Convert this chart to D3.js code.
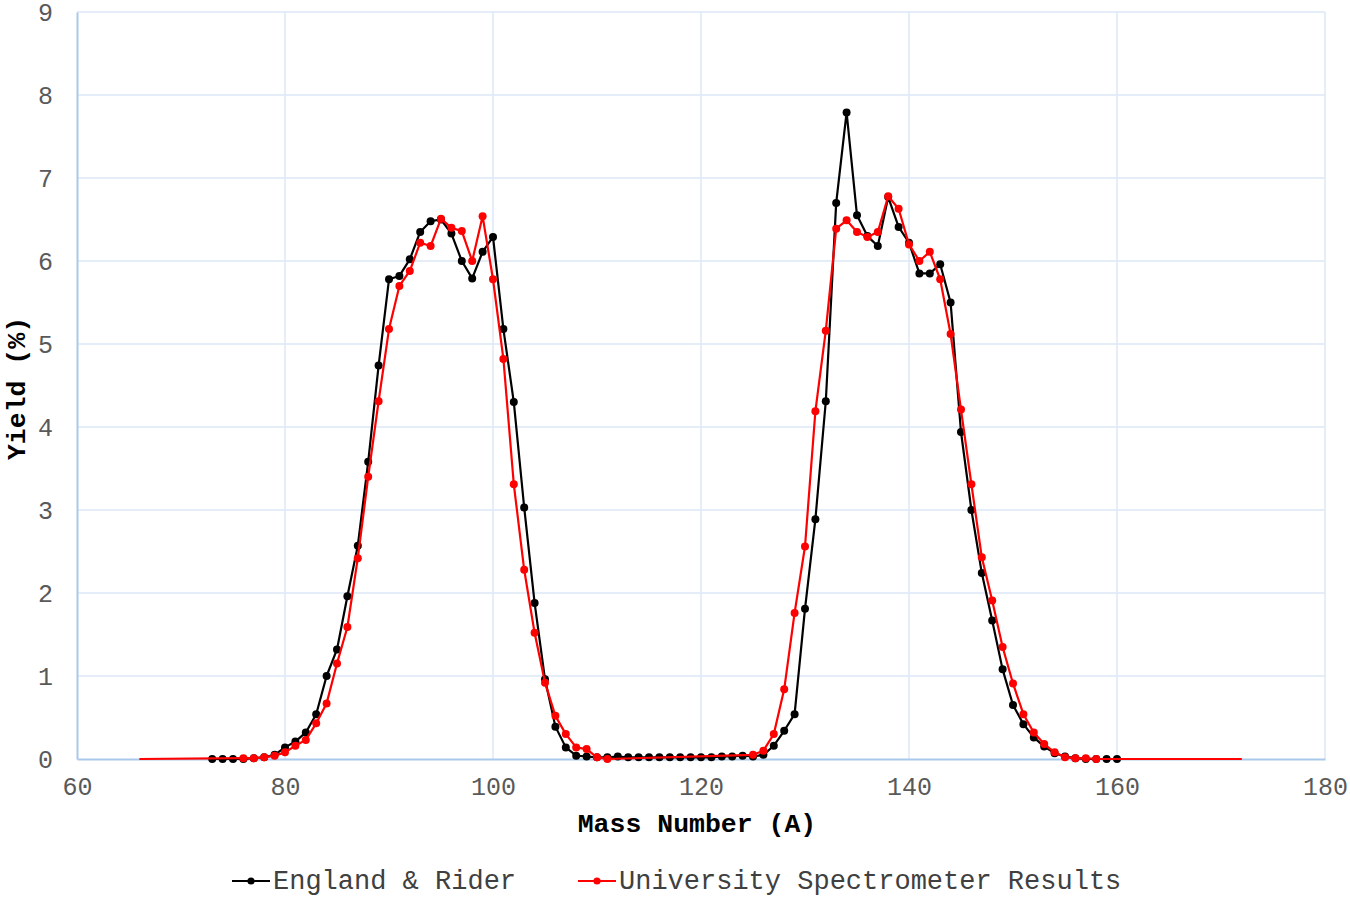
<!DOCTYPE html>
<html>
<head>
<meta charset="utf-8">
<script src="https://cdn.jsdelivr.net/npm/d3@7"></script>
<style>
  body { margin: 0; background: #fff; }
  svg text { font-family: "Liberation Mono", "Courier New", monospace; }
</style>
</head>
<body>
<div id="chart"></div>
<script>
// England & Rider yields, A = 73..160
var erMass = [73,74,75,76,77,78,79,80,81,82,83,84,85,86,87,88,89,90,91,92,93,94,95,96,97,98,99,100,
  101,102,103,104,105,106,107,108,109,110,111,112,113,114,115,116,117,118,119,120,121,122,123,124,125,
  126,127,128,129,130,131,132,133,134,135,136,137,138,139,140,141,142,143,144,145,146,147,148,149,150,
  151,152,153,154,155,156,157,158,159,160];
var erYield = [0,0,0,0,0.01,0.02,0.05,0.14,0.21,0.32,0.54,1.0,1.32,1.96,2.57,3.58,4.74,5.78,5.82,6.02,6.35,6.48,6.50,6.33,6.0,5.79,6.11,6.29,
  5.18,4.30,3.03,1.88,0.96,0.39,0.14,0.04,0.03,0.02,0.02,0.03,0.02,0.02,0.02,0.02,0.02,0.02,0.02,0.02,0.02,0.03,0.03,0.04,0.03,
  0.05,0.16,0.34,0.54,1.81,2.89,4.31,6.70,7.79,6.55,6.30,6.18,6.77,6.41,6.22,5.85,5.85,5.96,5.50,3.94,3.00,2.24,1.67,1.08,0.65,
  0.42,0.26,0.15,0.07,0.03,0.01,0,0,0,0];

// University spectrometer results
var usMass = [76,77,78,79,80,81,82,83,84,85,86,87,88,89,90,91,92,93,94,95,96,97,98,99,100,
  101,102,103,104,105,106,107,108,109,110,111,
  125,126,127,128,129,130,131,132,133,134,135,136,137,138,139,140,141,142,143,144,145,146,147,148,149,150,
  151,152,153,154,155,156,157,158];
var usYield = [0.01,0.01,0.02,0.04,0.08,0.16,0.23,0.43,0.67,1.15,1.59,2.42,3.40,4.31,5.18,5.70,5.88,6.22,6.18,6.51,6.40,6.36,6.0,6.54,5.78,
  4.82,3.31,2.28,1.52,0.92,0.52,0.30,0.14,0.12,0.02,0,
  0.05,0.10,0.30,0.84,1.76,2.56,4.19,5.16,6.39,6.49,6.35,6.29,6.35,6.78,6.63,6.20,6.00,6.11,5.78,5.12,4.21,3.31,2.43,1.91,1.35,0.91,
  0.54,0.32,0.18,0.08,0.02,0.01,0.01,0];
// the red line runs flat at zero out to these mass numbers (no markers)
var usLineEnds = [66, 172];

var xTicks = [60,80,100,120,140,160,180];
var yTicks = [0,1,2,3,4,5,6,7,8,9];
var seriesNames = ["England & Rider", "University Spectrometer Results"];
var seriesColors = ["#000000", "#ff0000"];

var width = 1350, height = 897;
var margin = {top: 12, right: 25, bottom: 138, left: 77};
var plotW = width - margin.left - margin.right,
    plotH = height - margin.top - margin.bottom;

var svg = d3.select("#chart").append("svg")
    .attr("width", width)
    .attr("height", height);

var g = svg.append("g")
    .attr("transform", "translate(" + margin.left + "," + margin.top + ")");

var xScale = d3.scaleLinear().domain([60, 180]).range([0, plotW]);
var yScale = d3.scaleLinear().domain([0, 9]).range([plotH, 0]);

// gridlines
g.append("g").selectAll("line.vgrid")
    .data(xTicks.slice(1))
    .enter().append("line")
    .attr("x1", function(d){ return xScale(d); })
    .attr("x2", function(d){ return xScale(d); })
    .attr("y1", 0).attr("y2", plotH)
    .attr("stroke", "#dce8f6").attr("stroke-width", 1.5);

g.append("g").selectAll("line.hgrid")
    .data(yTicks.slice(1))
    .enter().append("line")
    .attr("x1", 0).attr("x2", plotW)
    .attr("y1", function(d){ return yScale(d); })
    .attr("y2", function(d){ return yScale(d); })
    .attr("stroke", "#dce8f6").attr("stroke-width", 1.5);

// axes
var xAxis = g.append("g")
    .attr("transform", "translate(0," + plotH + ")")
    .call(d3.axisBottom(xScale).tickValues(xTicks).tickSize(0).tickPadding(18));
var yAxis = g.append("g")
    .call(d3.axisLeft(yScale).tickValues(yTicks).tickSize(0).tickPadding(24));

[xAxis, yAxis].forEach(function(ax){
    ax.select(".domain").attr("stroke", "#a9c9ec").attr("stroke-width", 2);
    ax.selectAll("text")
        .attr("fill", "#595959")
        .style("font-size", "25px");
});

// axis titles
svg.append("text")
    .attr("x", margin.left + plotW / 2 - 4)
    .attr("y", 832)
    .attr("text-anchor", "middle")
    .style("font-size", "26.5px")
    .style("font-weight", "bold")
    .attr("fill", "#000")
    .text("Mass Number (A)");

svg.append("text")
    .attr("transform", "translate(25," + (margin.top + plotH / 2 + 3) + ") rotate(-90)")
    .attr("text-anchor", "middle")
    .style("font-size", "26.5px")
    .style("font-weight", "bold")
    .attr("fill", "#000")
    .text("Yield (%)");

// series
var line = d3.line()
    .x(function(d){ return xScale(d[0]); })
    .y(function(d){ return yScale(d[1]); });

var erPts = erMass.map(function(m, i){ return [m, erYield[i]]; });
var usPts = usMass.map(function(m, i){ return [m, usYield[i]]; });
var usLinePts = [[usLineEnds[0], 0]].concat(usPts, [[usLineEnds[1], 0]]);

var plot = g.append("g");

function drawSeries(linePts, markPts, color) {
    plot.append("path")
        .datum(linePts)
        .attr("d", line)
        .attr("fill", "none")
        .attr("stroke", color)
        .attr("stroke-width", 2.2)
        .attr("stroke-linejoin", "round");
    plot.append("g").selectAll("circle")
        .data(markPts)
        .enter().append("circle")
        .attr("cx", function(d){ return xScale(d[0]); })
        .attr("cy", function(d){ return yScale(d[1]); })
        .attr("r", 4)
        .attr("fill", color);
}

drawSeries(erPts, erPts, seriesColors[0]);
drawSeries(usLinePts, usPts, seriesColors[1]);

// legend
var legendX = [232, 578];
var legend = svg.selectAll(".legend")
    .data(seriesNames)
    .enter().append("g")
    .attr("class", "legend")
    .attr("transform", function(d, i){ return "translate(" + legendX[i] + ",881)"; });

legend.append("line")
    .attr("x1", 0).attr("x2", 38)
    .attr("stroke", function(d, i){ return seriesColors[i]; })
    .attr("stroke-width", 2.2);
legend.append("circle")
    .attr("cx", 19).attr("r", 3.6)
    .attr("fill", function(d, i){ return seriesColors[i]; });
legend.append("text")
    .attr("x", 41)
    .attr("y", 8)
    .style("font-size", "27px")
    .attr("fill", "#404040")
    .text(function(d){ return d; });
</script>
</body>
</html>
